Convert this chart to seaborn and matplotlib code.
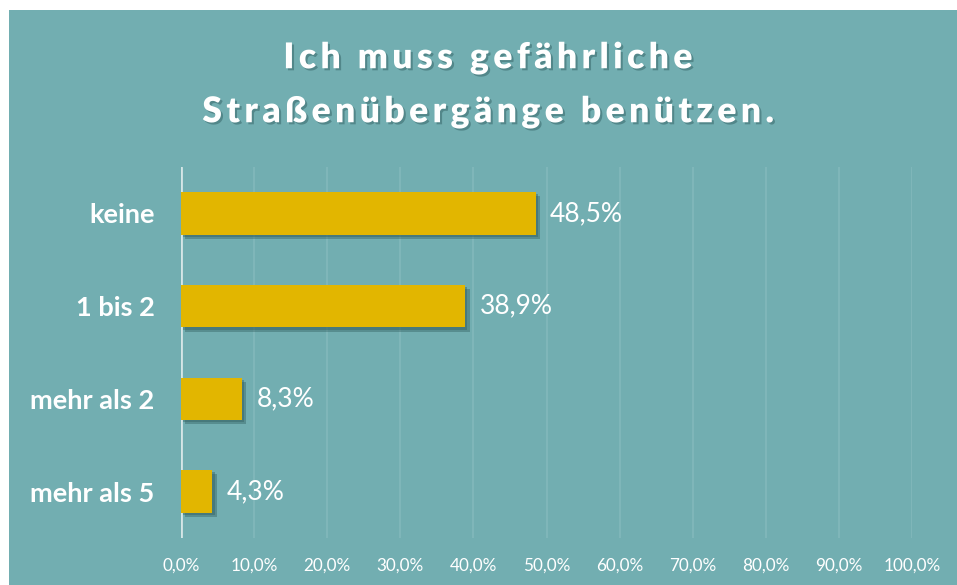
import pandas as pd
import seaborn as sns
import matplotlib.pyplot as plt
import matplotlib.patheffects as pe
from matplotlib.patches import Rectangle

# data
categories = ['keine', '1 bis 2', 'mehr als 2', 'mehr als 5']
shares = [48.5, 38.9, 8.3, 4.3]
value_labels = ['48,5%', '38,9%', '8,3%', '4,3%']
xticks = [0, 10, 20, 30, 40, 50, 60, 70, 80, 90, 100]
xtick_labels = ['0,0%', '10,0%', '20,0%', '30,0%', '40,0%', '50,0%',
                '60,0%', '70,0%', '80,0%', '90,0%', '100,0%']
title_lines = ['Ich muss gefährliche', 'Straßenübergänge benützen.']

bg = '#72AEB1'
bar_color = '#E2B600'

df = pd.DataFrame({'category': categories, 'share': shares})

sns.set_style('white')
plt.rcParams['font.family'] = ['Lato', 'DejaVu Sans']

fig = plt.figure(figsize=(9.57, 5.85), dpi=100, facecolor='white')
# teal panel behind everything
fig.patches.append(Rectangle((9 / 957, 0), 1 - 9 / 957, 1 - 10 / 585,
                             transform=fig.transFigure, facecolor=bg,
                             edgecolor='none', zorder=-5))
ax = fig.add_axes([181 / 957, 47 / 585, 731 / 957, 371 / 585])
ax.set_facecolor('none')

sns.barplot(data=df, x='share', y='category', orient='h', color=bar_color,
            width=0.46, saturation=1, linewidth=0, edgecolor='none', ax=ax, zorder=3)
# soft drop shadow under the bars
for p in ax.patches:
    p.set_path_effects([pe.SimplePatchShadow(offset=(3, -3), shadow_rgbFace='#2f5c5e', alpha=0.4),
                        pe.SimplePatchShadow(offset=(1.5, -1.5), shadow_rgbFace='#2f5c5e', alpha=0.4),
                        pe.Normal()])

ax.set_xlim(0, 100)
ax.set_xticks(xticks)
ax.set_xticklabels(xtick_labels, color='white', fontsize=12.3)
ax.tick_params(axis='x', length=0, pad=14)
ax.tick_params(axis='y', length=0, pad=19)
for lab in ax.get_yticklabels():
    lab.set_color('white')
    lab.set_fontsize(19.5)
    lab.set_fontweight('bold')
ax.set_xlabel('')
ax.set_ylabel('')

# gridlines
for t in xticks[1:]:
    ax.axvline(t, color='#82B8BB', lw=1.2, zorder=1)
ax.axvline(0, color='#D5E6E6', lw=2, zorder=2)
for s in ax.spines.values():
    s.set_visible(False)

# value labels
for i, (v, lab) in enumerate(zip(shares, value_labels)):
    ax.text(v + 2.0, i, lab, va='center', ha='left', color='white', fontsize=19)

# title with spaced letters
spaced = ['\u2009'.join(line) for line in title_lines]
title_fx = [pe.withSimplePatchShadow(offset=(1.5, -1.5), shadow_rgbFace='#3d6d70', alpha=0.6)]
fig.text(0.509, 1 - 58 / 585, spaced[0], ha='center', va='center', color='white',
         fontsize=25.5, fontweight='heavy', path_effects=title_fx)
fig.text(0.509, 1 - 112 / 585, spaced[1], ha='center', va='center', color='white',
         fontsize=25.5, fontweight='heavy', path_effects=title_fx)

fig.savefig('out.png', dpi=100, facecolor='white')
plt.close()
